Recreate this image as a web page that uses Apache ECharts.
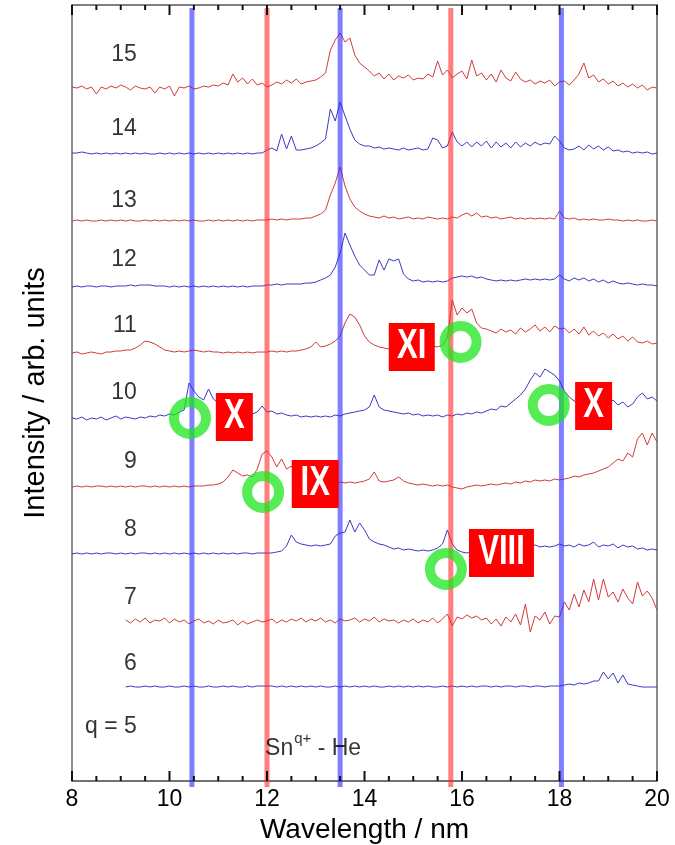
<!DOCTYPE html>
<html><head><meta charset="utf-8">
<script src="https://cdn.jsdelivr.net/npm/echarts@6/dist/echarts.min.js"></script>
<style>html,body{margin:0;padding:0;background:#fff}#c{width:675px;height:845px}</style>
</head><body><div id="c"></div>
<script>
// sampling grid (nm)
const wavelengths = [
 8.0,8.1,8.2,8.3,8.4,8.5,8.6,8.7,8.8,8.9,
 9.0,9.1,9.2,9.3,9.4,9.5,9.6,9.7,9.8,9.9,
 10.0,10.1,10.2,10.3,10.4,10.5,10.6,10.7,10.8,10.9,
 11.0,11.1,11.2,11.3,11.4,11.5,11.6,11.7,11.8,11.9,
 12.0,12.1,12.2,12.3,12.4,12.5,12.6,12.7,12.8,12.9,
 13.0,13.1,13.2,13.3,13.4,13.5,13.6,13.7,13.8,13.9,
 14.0,14.1,14.2,14.3,14.4,14.5,14.6,14.7,14.8,14.9,
 15.0,15.1,15.2,15.3,15.4,15.5,15.6,15.7,15.8,15.9,
 16.0,16.1,16.2,16.3,16.4,16.5,16.6,16.7,16.8,16.9,
 17.0,17.1,17.2,17.3,17.4,17.5,17.6,17.7,17.8,17.9,
 18.0,18.1,18.2,18.3,18.4,18.5,18.6,18.7,18.8,18.9,
 19.0,19.1,19.2,19.3,19.4,19.5,19.6,19.7,19.8,19.9,
 20.0];

const charges = [15,14,13,12,11,10,9,8,7,6];
const offsets = [693,627,560,494,428,362,294,227,159,94];

const s15 = [
 1,0,2,-1,1,-6,1,-1,2,0,
 3,1,-2,2,0,-1,1,-5,1,-1,
 2,-8,1,0,2,-1,0,2,1,3,
 2,5,3,14,6,10,4,9,3,5,
 1,3,6,4,8,5,9,4,6,7,
 8,11,15,38,48,55,46,50,33,25,
 21,17,12,15,9,14,8,12,10,13,
 8,10,9,14,11,27,13,18,10,14,
 17,9,28,12,15,8,14,6,18,10,
 7,16,9,6,8,4,7,5,8,2,
 6,7,3,8,14,25,10,13,6,9,
 4,7,2,5,1,4,0,3,-2,1,
 0];
const s14 = [
 1,1,2,1,0,1,0,1,0,1,
 0,1,0,1,0,1,0,0,1,0,
 1,0,1,0,1,0,1,0,1,0,
 1,0,1,0,1,0,1,0,1,1,
 4,6,3,20,5,18,4,4,5,6,
 8,11,15,45,33,52,38,25,14,10,
 8,8,6,7,5,6,5,4,6,4,
 5,6,4,5,16,14,6,8,22,12,
 8,12,7,12,8,13,6,12,7,11,
 6,12,7,11,8,12,9,11,10,18,
 13,6,4,5,8,4,9,5,8,4,
 7,3,4,2,3,1,2,1,2,0,
 1];
const s13 = [
 0,1,0,1,0,0,1,0,1,0,
 1,0,1,0,0,1,0,1,0,1,
 0,1,0,1,0,1,0,0,1,0,
 1,0,1,0,1,0,1,0,1,1,
 1,2,1,2,1,2,2,2,3,3,
 5,7,11,26,38,54,35,22,14,10,
 7,5,4,3,5,3,4,2,3,4,
 2,3,2,4,3,2,3,2,4,3,
 6,8,5,8,4,5,3,4,2,3,
 4,2,3,2,3,2,3,2,3,2,
 10,3,2,3,1,2,1,2,1,1,
 2,1,1,0,1,0,1,0,0,1,
 0];
const s12 = [
 0,1,0,1,1,0,1,1,0,1,
 1,1,2,1,2,2,2,1,1,1,
 0,1,0,1,0,1,0,1,0,1,
 0,1,0,1,0,1,0,1,1,1,
 2,2,3,2,3,3,3,3,4,4,
 5,7,9,12,20,34,54,42,31,22,
 17,12,12,27,17,28,26,28,13,8,
 6,7,5,6,5,6,5,6,9,10,
 11,10,11,9,10,8,7,6,7,6,
 7,6,7,8,7,8,7,8,7,8,
 12,8,6,9,7,9,6,8,5,7,
 4,6,4,3,4,3,2,3,2,2,
 1];
const s11 = [
 0,1,-1,0,1,0,-1,1,1,2,
 2,3,3,5,8,12,11,9,6,3,
 2,1,2,1,2,3,2,1,2,1,
 1,0,1,0,1,0,1,0,1,1,
 1,2,1,2,1,2,2,3,4,6,
 11,6,7,9,12,17,30,39,36,28,
 17,11,8,6,5,4,5,4,5,4,
 5,6,7,6,7,6,8,15,53,38,
 45,40,44,30,25,24,22,20,24,21,
 23,19,25,21,24,28,22,26,21,27,
 24,25,20,24,19,26,18,22,17,20,
 15,19,14,17,12,16,11,10,12,9,
 10];
const s10 = [
 1,0,2,-1,1,0,2,-1,1,3,
 0,2,1,0,2,1,3,2,4,3,
 5,4,7,9,36,28,22,19,30,20,
 16,11,9,7,6,5,4,5,7,13,
 7,8,5,6,4,3,4,2,3,2,
 3,2,3,2,4,3,5,6,7,8,
 9,12,24,12,9,8,7,6,5,6,
 4,5,3,4,3,4,2,4,3,5,
 4,6,5,7,6,8,10,9,13,12,
 16,20,24,30,39,46,42,50,47,44,
 38,28,22,18,16,20,15,17,14,18,
 15,19,14,17,12,15,22,26,20,22,
 18];
const s9 = [
 0,1,0,1,0,1,1,0,1,0,
 1,0,1,0,1,1,0,1,0,1,
 0,1,0,1,0,1,1,1,2,2,
 3,5,10,17,14,11,12,10,18,33,
 36,30,20,28,18,21,12,9,8,7,
 6,6,5,5,4,5,4,5,4,5,
 6,8,15,6,5,6,7,10,6,4,
 3,2,3,2,1,2,1,2,0,-1,
 -2,0,1,2,1,2,3,2,3,4,
 3,5,4,6,5,7,6,7,6,8,
 7,8,9,11,10,12,13,14,16,18,
 20,24,28,26,34,30,48,54,42,54,
 45];
const s8 = [
 0,1,0,1,0,1,0,1,1,0,
 1,0,1,0,1,1,0,1,0,1,
 0,1,0,1,0,1,0,1,0,1,
 0,1,0,1,0,1,1,0,1,1,
 1,1,2,3,8,19,12,10,9,8,
 9,8,9,10,18,21,22,34,22,31,
 24,15,12,10,9,7,5,6,4,5,
 4,3,4,3,4,6,10,24,10,4,
 2,1,2,3,2,4,3,5,4,6,
 5,7,6,8,7,9,7,8,7,8,
 10,8,9,7,10,8,9,12,7,9,
 8,10,6,9,7,8,5,6,4,5,
 4];
const s7 = [
 null,null,null,null,null,null,null,null,null,null,
 null,2,-1,3,0,4,-1,2,1,4,
 -1,3,0,2,-2,1,3,-1,1,-2,
 2,-1,0,2,-3,1,-2,0,2,0,
 1,3,-1,2,0,3,1,4,0,3,
 1,4,0,2,-1,3,1,2,4,0,
 3,1,5,0,3,1,2,-1,2,0,
 3,-1,2,0,4,-1,3,8,-4,5,
 3,7,4,6,2,4,-2,3,-4,5,
 0,8,-3,18,-10,6,2,10,-2,6,
 5,20,12,28,15,32,20,43,22,43,
 25,30,20,33,24,18,40,26,31,24,
 12];
const s6 = [
 null,null,null,null,null,null,null,null,null,null,
 null,0,1,0,0,1,0,1,0,0,
 1,0,0,1,0,1,0,0,1,0,
 0,1,0,1,0,0,1,0,1,1,
 1,1,0,1,0,1,0,1,0,1,
 0,1,0,0,1,0,1,0,1,0,
 1,0,1,0,0,1,0,1,0,1,
 0,1,0,1,0,0,1,0,1,0,
 1,0,1,0,1,1,0,1,0,1,
 1,0,1,1,0,1,1,0,1,1,
 1,2,3,2,4,3,4,6,6,15,
 8,14,4,12,3,2,1,0,0,0,
 0];
const spectra = [s15,s14,s13,s12,s11,s10,s9,s8,s7,s6];

// axis tick values (nm)
const majorTicks = [8,10,12,14,16,18,20];
const minorTicks = [8.5,9,9.5,10.5,11,11.5,12.5,13,13.5,14.5,15,15.5,16.5,17,17.5,18.5,19,19.5];

// annotations
const referenceLines = [10.46, 12.0, 13.5, 15.77, 18.04];
const referenceKinds = ['blue','red','blue','red','blue'];
const circleMarks = [[10.42,363],[11.92,289],[15.97,439],[17.78,376],[15.67,212]];
const ionStages = ['X','IX','XI','X','VIII'];
const ionStageAnchors = [[11.33,364],[12.99,297],[14.97,434],[18.70,375],[16.81,228]];
const ionStageBoxSizes = [[37,48],[47,48],[46,48],[37,48],[65,48]];
const chargeLabels = ['15','14','13','12','11','10','9','8','7','6','q = 5'];
const chargeLabelAnchorY = [726,652,580,521,455,388,319,251,183,117,54];
const chargeLabelAnchorX = 9.33;

const Y_MIN = 0, Y_MAX = 776;
const FONT = "'Liberation Sans', Arial, Helvetica, sans-serif";
const RED = '#d23a3a', BLUE = '#3a3ac4';
const bandColor = {blue:'rgba(40,40,255,0.6)', red:'rgba(255,40,40,0.6)'};

const series = [];
spectra.forEach((s, k) => {
  const data = [];
  for (let i = 0; i < wavelengths.length; i++) {
    if (s[i] === null) continue;
    data.push([wavelengths[i], offsets[k] + s[i]]);
  }
  series.push({
    type:'line', name:'q='+charges[k], data, showSymbol:false, symbol:'none',
    lineStyle:{width:1, color: (charges[k] % 2 ? RED : BLUE)}, z:2, silent:true
  });
});
referenceLines.forEach((x, k) => {
  series.push({
    type:'line', data:[[x,773],[x,-6]], showSymbol:false, symbol:'none', clip:false,
    lineStyle:{width:5, color: bandColor[referenceKinds[k]]}, z:3, silent:true
  });
});
// inward ticks on bottom and top frame
const tickData = majorTicks.map(v=>[v,1]).concat(minorTicks.map(v=>[v,0]));
series.push({
  type:'custom', data: tickData, encode:{x:0}, z:6, silent:true, clip:false,
  renderItem: function(params, api) {
    const v = api.value(0), major = api.value(1) === 1;
    const len = major ? 10 : 5;
    const b = api.coord([v, Y_MIN]), t = api.coord([v, Y_MAX]);
    const st = {stroke:'#111', lineWidth:2};
    return {type:'group', children:[
      {type:'line', shape:{x1:b[0], y1:b[1], x2:b[0], y2:b[1]-len}, style:st},
      {type:'line', shape:{x1:t[0], y1:t[1], x2:t[0], y2:t[1]+len}, style:st}
    ]};
  }
});
series.push({
  type:'scatter', data: circleMarks, symbol:'circle', symbolSize:32,
  itemStyle:{color:'rgba(0,0,0,0)', borderColor:'rgba(30,230,30,0.75)', borderWidth:10, opacity:1},
  z:4, silent:true
});
series.push({
  type:'custom', data: ionStageAnchors, encode:{x:0, y:1}, z:5, silent:true, clip:false,
  renderItem: function(params, api) {
    const c = api.coord([api.value(0), api.value(1)]);
    const i = params.dataIndex;
    const w = ionStageBoxSizes[i][0], h = ionStageBoxSizes[i][1];
    return {type:'group', children:[
      {type:'rect', shape:{x:c[0]-w/2, y:c[1]-h/2, width:w, height:h}, style:{fill:'#ff0000'}},
      {type:'text', x:c[0], y:c[1]-1, scaleX:0.74, style:{text:ionStages[i], fill:'#fff',
        font:"bold 42px 'Liberation Sans', Arial, sans-serif", align:'center', verticalAlign:'middle'}}
    ]};
  }
});
series.push({
  type:'scatter', symbolSize:0,
  data: chargeLabels.map((t,k)=>({name:t, value:[chargeLabelAnchorX, chargeLabelAnchorY[k]]})),
  label:{show:true, position:'left', distance:0, formatter:'{b}', color:'#000', fontSize:23, fontFamily:FONT},
  z:5, silent:true
});
series.push({
  type:'scatter', symbolSize:0,
  data:[{name:'Sn', value:[11.96, 37]}],
  label:{show:true, position:'right', distance:0,
    formatter:'{a|Sn}{b|q+}{a| - He}',
    rich:{
      a:{fontSize:23, fontFamily:FONT, color:'#000', lineHeight:32, verticalAlign:'bottom'},
      b:{fontSize:15, fontFamily:FONT, color:'#000', lineHeight:32, verticalAlign:'top', padding:[3,0,0,1]}
    }},
  z:5, silent:true
});

const chart = echarts.init(document.getElementById('c'), null, {renderer:'canvas'});
chart.setOption({
  animation:false,
  backgroundColor:'#fff',
  grid:{left:72, right:18, top:5, bottom:64, containLabel:false, outerBoundsMode:'none'},
  xAxis:[{
    type:'value', min:8, max:20, interval:2, position:'bottom',
    name:'Wavelength / nm', nameLocation:'middle', nameGap:26,
    nameTextStyle:{fontSize:28, color:'#000', fontFamily:FONT},
    axisLine:{show:true, onZero:false, lineStyle:{color:'#444', width:1.5}},
    axisTick:{show:false}, minorTick:{show:false},
    axisLabel:{fontSize:23, color:'#000', fontFamily:FONT, margin:7},
    splitLine:{show:false}
  },{
    type:'value', min:8, max:20, interval:2, position:'top',
    axisLine:{show:true, onZero:false, lineStyle:{color:'#555', width:1.5}},
    axisTick:{show:false}, minorTick:{show:false},
    axisLabel:{show:false}, splitLine:{show:false}
  }],
  yAxis:[{
    type:'value', min:Y_MIN, max:Y_MAX, position:'left',
    name:'Intensity / arb. units', nameLocation:'middle', nameGap:22,
    nameTextStyle:{fontSize:29, color:'#000', fontFamily:FONT},
    axisLine:{show:true, onZero:false, lineStyle:{color:'#666', width:1.5}},
    axisTick:{show:false}, axisLabel:{show:false}, splitLine:{show:false}
  },{
    type:'value', min:Y_MIN, max:Y_MAX, position:'right',
    axisLine:{show:true, onZero:false, lineStyle:{color:'#666', width:1.5}},
    axisTick:{show:false}, axisLabel:{show:false}, splitLine:{show:false}
  }],
  series
});
</script></body></html>
